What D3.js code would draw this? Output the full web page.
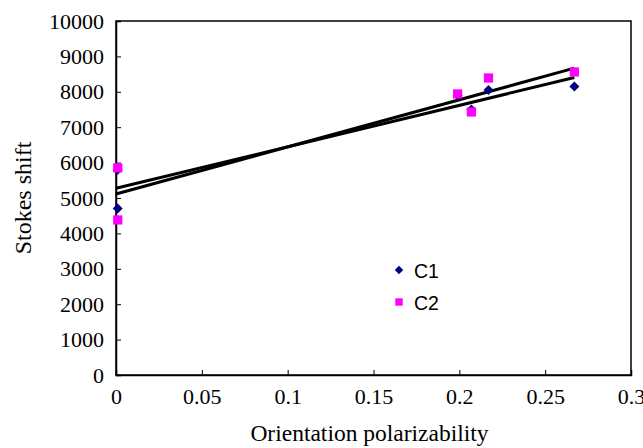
<!DOCTYPE html>
<html>
<head>
<meta charset="utf-8">
<script src="https://cdn.jsdelivr.net/npm/d3@7"></script>
<style>
  html, body { margin: 0; padding: 0; background: #fff; }
  svg { display: block; }
</style>
</head>
<body>
<svg id="chart" width="643" height="448"></svg>
<script>
// ---- data ----
const seriesNames = ["C1", "C2"];
const c1X = [0.001, 0.001, 0.199, 0.207, 0.217, 0.267];
const c1Y = [4700, 5800, 7900, 7500, 8050, 8150];
const c2X = [0.001, 0.001, 0.199, 0.207, 0.217, 0.267];
const c2Y = [5850, 4380, 7940, 7430, 8390, 8560];
const xTicks = [0, 0.05, 0.1, 0.15, 0.2, 0.25, 0.3];
const yTicks = [0, 1000, 2000, 3000, 4000, 5000, 6000, 7000, 8000, 9000, 10000];
const xTitle = "Orientation polarizability";
const yTitle = "Stokes shift";

const svg = d3.select("#chart");
const m = { left: 116, right: 631, top: 21, bottom: 375 };
const x = d3.scaleLinear().domain([0, 0.3]).range([m.left, m.right]);
const y = d3.scaleLinear().domain([0, 10000]).range([m.bottom, m.top]);
const serif = "'Liberation Serif', 'Times New Roman', serif";

// plot frame
svg.append("rect").attr("x", m.left).attr("y", m.top)
  .attr("width", m.right - m.left).attr("height", m.bottom - m.top)
  .attr("fill", "none").attr("stroke", "#000").attr("stroke-width", 1.5);

// axes
const yAxis = d3.axisLeft(y).tickValues(yTicks).tickSize(-5).tickPadding(12)
  .tickFormat(d3.format("d"));
const gy = svg.append("g").attr("transform", `translate(${m.left},0)`).call(yAxis);
const xAxis = d3.axisBottom(x).tickValues(xTicks).tickSize(-5).tickPadding(13)
  .tickFormat(d => String(d));
const gx = svg.append("g").attr("transform", `translate(0,${m.bottom})`).call(xAxis);
[gy, gx].forEach(g => {
  g.select(".domain").attr("stroke", "#000").attr("stroke-width", 1.5);
  g.selectAll(".tick line").attr("stroke", "#000").attr("stroke-width", 1);
  g.selectAll("text").attr("font-family", serif).attr("font-size", 22).attr("fill", "#000");
});

// axis titles
svg.append("text").attr("x", (m.left + m.right) / 2 - 4).attr("y", 441)
  .attr("text-anchor", "middle").attr("font-family", serif).attr("font-size", 23.5)
  .text(xTitle);
svg.append("text").attr("transform", `translate(31,${(m.top + m.bottom) / 2}) rotate(-90)`)
  .attr("text-anchor", "middle").attr("font-family", serif).attr("font-size", 24)
  .text(yTitle);

// linear regression trendlines
function fit(xs, ys) {
  const mx = d3.mean(xs), my = d3.mean(ys);
  let sxy = 0, sxx = 0;
  xs.forEach((v, i) => { sxy += (v - mx) * (ys[i] - my); sxx += (v - mx) * (v - mx); });
  const b = sxy / sxx;
  return { a: my - b * mx, b };
}
const series = [
  { name: seriesNames[0], xs: c1X, ys: c1Y, color: "#000080", shape: d3.symbolSquare, rot: 45, size: 50 },
  { name: seriesNames[1], xs: c2X, ys: c2Y, color: "#FF00FF", shape: d3.symbolSquare, rot: 0, size: 85 }
];
series.forEach(s => {
  const f = fit(s.xs, s.ys);
  const x0 = 0, x1 = d3.max(s.xs);
  svg.append("line")
    .attr("x1", x(x0)).attr("y1", y(f.a + f.b * x0))
    .attr("x2", x(x1)).attr("y2", y(f.a + f.b * x1))
    .attr("stroke", "#000").attr("stroke-width", 3);
});

// markers
series.forEach(s => {
  svg.append("g").selectAll("path").data(s.xs.map((v, i) => [v, s.ys[i]]))
    .join("path")
    .attr("transform", d => `translate(${x(d[0])},${y(d[1])}) rotate(${s.rot})`)
    .attr("d", d3.symbol().type(s.shape).size(s.size))
    .attr("fill", s.color);
});

// legend
const leg = svg.append("g");
series.forEach((s, i) => {
  const yy = 270 + i * 32;
  leg.append("path").attr("transform", `translate(399,${yy}) rotate(${s.rot})`)
    .attr("d", d3.symbol().type(s.shape).size(s.name === "C1" ? 36 : 55))
    .attr("fill", s.color);
  leg.append("text").attr("x", 414).attr("y", yy + 8)
    .attr("font-family", "'Liberation Sans', Arial, sans-serif").attr("font-size", 19.5)
    .text(s.name);
});
</script>
</body>
</html>
